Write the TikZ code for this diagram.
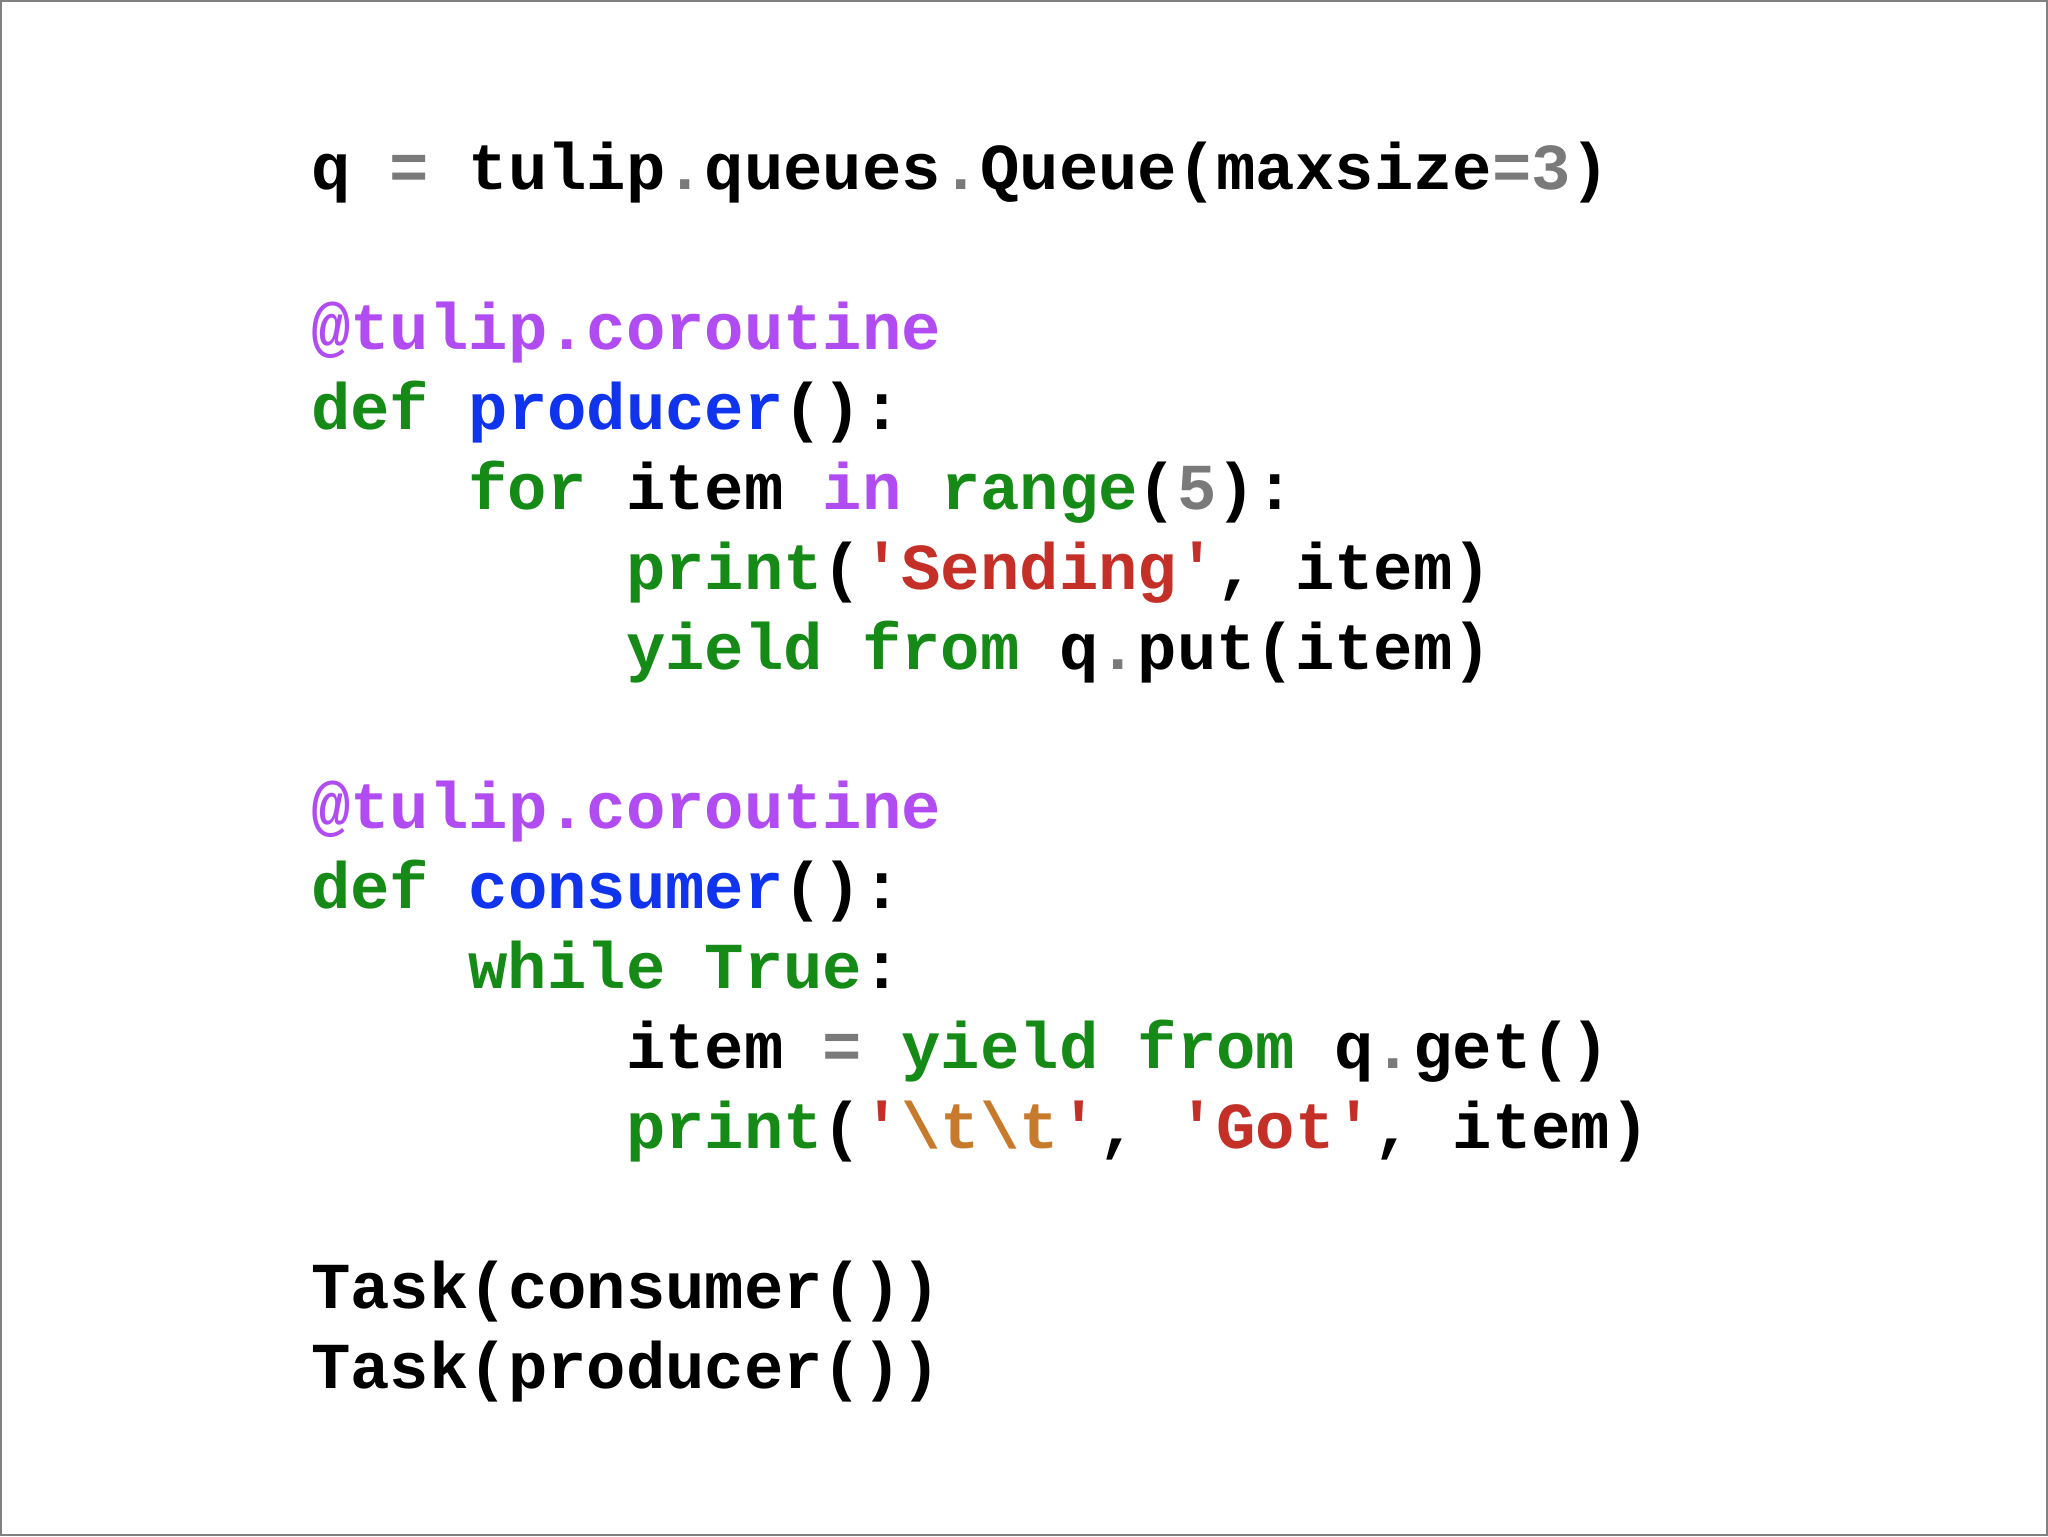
\documentclass[tikz,border=0pt]{standalone}
\usepackage{fontspec}
\newfontfamily\cf{Liberation Mono}
\definecolor{kw}{HTML}{168A16}
\definecolor{fn}{HTML}{1034EE}
\definecolor{dec}{HTML}{B04CF2}
\definecolor{gr}{HTML}{7A7A7A}
\definecolor{st}{HTML}{C43028}
\definecolor{es}{HTML}{C87A2C}
\newcommand\K[1]{\textcolor{kw}{#1}}
\newcommand\F[1]{\textcolor{fn}{#1}}
\newcommand\D[1]{\textcolor{dec}{#1}}
\newcommand\G[1]{\textcolor{gr}{#1}}
\newcommand\Sx[1]{\textcolor{st}{#1}}
\newcommand\E[1]{\textcolor{es}{#1}}
\tikzset{code/.style={anchor=base west,inner sep=0pt,font=\cf\bfseries\fontsize{32.8pt}{40pt}\selectfont}}
\begin{document}
\begin{tikzpicture}[x=1pt,y=1pt]
\fill[white] (0,0) rectangle (1024,-768);
\draw[gray,line width=0.8pt] (0.4,-0.4) rectangle (1023.6,-767.6);
\def\xa{155.4}\def\xb{234.1}\def\xc{312.8}
\node[code] (l0) at (\xa,-94.7) {q \G{=} tulip\G{.}queues\G{.}Queue(maxsize\G{=3})};
\node[code] (l2) at (\xa,-174.6) {\D{@tulip.coroutine}};
\node[code] (l3) at (\xa,-214.6) {\K{def} \F{producer}():};
\node[code] (l4) at (\xb,-254.6) {\K{for} item \D{in} \K{range}(\G{5}):};
\node[code] (l5) at (\xc,-294.5) {\K{print}(\Sx{'Sending'}, item)};
\node[code] (l6) at (\xc,-334.5) {\K{yield} \K{from} q\G{.}put(item)};
\node[code] (l8) at (\xa,-414.4) {\D{@tulip.coroutine}};
\node[code] (l9) at (\xa,-454.4) {\K{def} \F{consumer}():};
\node[code] (l10) at (\xb,-494.3) {\K{while} \K{True}:};
\node[code] (l11) at (\xc,-534.3) {item \G{=} \K{yield} \K{from} q\G{.}get()};
\node[code] (l12) at (\xc,-574.2) {\K{print}(\Sx{'}\E{\symbol{92}t\symbol{92}t}\Sx{'}, \Sx{'Got'}, item)};
\node[code] (l14) at (\xa,-654.1) {Task(consumer())};
\node[code] (l15) at (\xa,-694.1) {Task(producer())};
\end{tikzpicture}
\end{document}
